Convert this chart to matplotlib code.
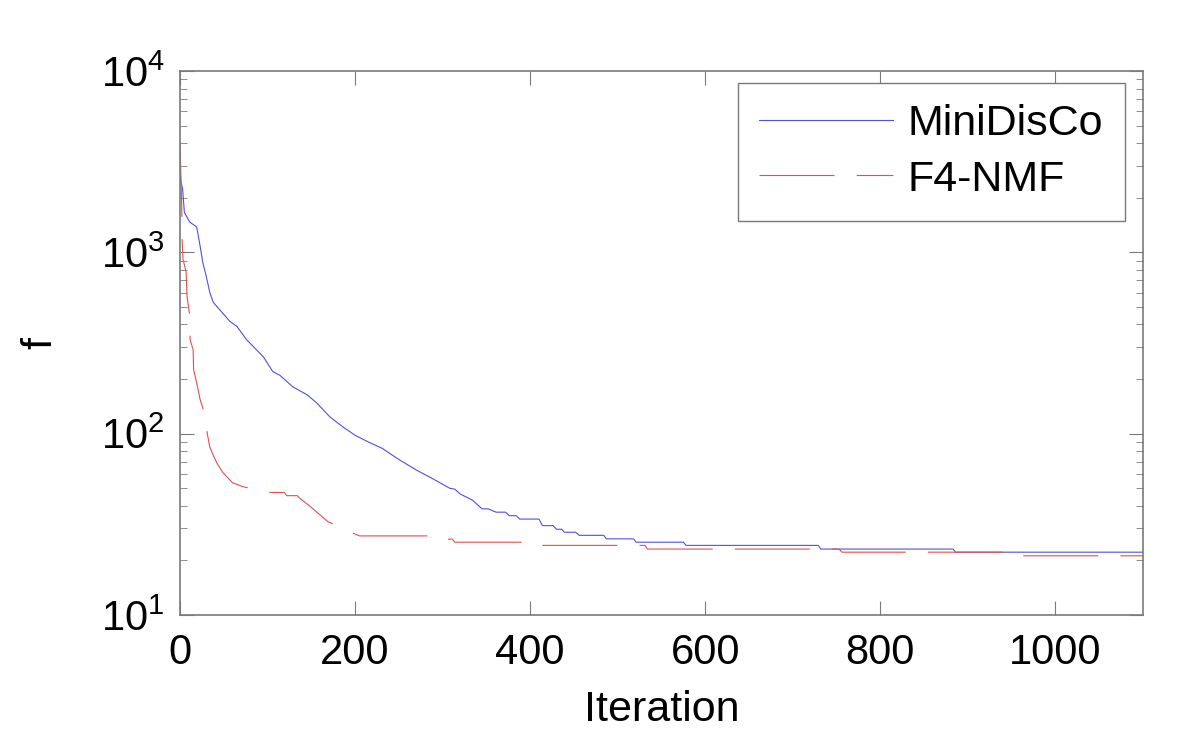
import numpy as np
import matplotlib.pyplot as plt

plt.rcParams['font.family'] = ['Liberation Sans', 'DejaVu Sans']
plt.rcParams['lines.scale_dashes'] = False
plt.rcParams['mathtext.fontset'] = 'custom'
plt.rcParams['mathtext.rm'] = 'Liberation Sans'

# MiniDisCo
mini_it = [0, 3, 5, 11, 19, 21, 23, 26, 30, 34, 38, 57, 65, 76, 95, 106, 114,
           129, 145, 156, 171, 186, 200, 215, 231, 250, 270, 290, 308, 314, 320,
           334, 345, 352, 361, 372, 376, 384, 388, 410, 414, 426, 430, 436, 439,
           452, 456, 484, 487, 518, 521, 575, 578, 729, 732, 883, 886, 1100]
mini_f = [2590, 2230, 1660, 1470, 1380, 1225, 1080, 880, 737, 601, 530, 416, 390,
          330, 266, 220, 210, 181, 164, 148, 124, 109, 98, 90, 83, 72, 63, 56, 50,
          49.4, 46.5, 43, 38.5, 38.5, 36.9, 36.9, 35.3, 35.3, 33.8, 33.8, 31.1,
          31.1, 29.7, 29.7, 28.6, 28.6, 27.5, 27.5, 26.3, 26.3, 25.2, 25.2, 24.2,
          24.2, 23.1, 23.1, 22.2, 22.2]

# F4-NMF
f4_it = [0, 2, 2.5, 3.4, 7, 8, 11, 11.5, 15, 15.5, 19, 23, 26, 31, 34, 38, 42,
         49, 60, 72, 99, 119, 122, 134, 137, 148, 156, 169, 194, 205, 299, 302,
         311, 314, 396, 399, 531, 534, 753, 756, 943, 946, 1100]
f4_f = [4060, 1790, 1150, 915, 780, 571, 454, 330, 290, 226, 191, 154, 139, 101,
        84.5, 76, 69, 61, 53.6, 51, 47.4, 47.4, 45.5, 45.5, 43.9, 40, 37, 32.7,
        28.8, 27.3, 27.3, 26.2, 26.2, 25.2, 25.2, 24.2, 24.2, 23.1, 23.1, 22.2,
        22.2, 21.2, 21.2]

fig = plt.figure(figsize=(12, 7.44), dpi=100)
ax = fig.add_axes([0.15, 0.1734, 0.8025, 0.7312])

ax.plot(mini_it, mini_f, color='#5050e0', linewidth=0.8, label='MiniDisCo')
ax.plot(f4_it, f4_f, color='#e05050', linewidth=0.8, dashes=(54, 16),
        label='F4-NMF')

ax.set_yscale('log')
ax.set_xlim(0, 1100)
ax.set_ylim(10, 1e4)
ax.set_xticks([0, 200, 400, 600, 800, 1000])
ax.set_yticks([10, 100, 1000, 10000])
ax.set_yticklabels([r'$10^1$', r'$10^2$', r'$10^3$', r'$10^4$'])

for s in ax.spines.values():
    s.set_color('#7a7a7a')
    s.set_linewidth(1.2)
ax.tick_params(which='both', direction='in', top=True, right=True,
               colors='#7a7a7a', labelcolor='black', labelsize=30)
ax.tick_params(which='major', length=10)
ax.tick_params(which='minor', length=5)
ax.tick_params(axis='x', which='major', pad=13)
ax.tick_params(axis='y', which='major', pad=11)

ax.set_xlabel('Iteration', fontsize=31, labelpad=12)
ax.set_ylabel('f', fontsize=31, labelpad=29)

leg = ax.legend(loc='upper right', bbox_to_anchor=(0.981, 0.978),
                borderaxespad=0, fontsize=31, handlelength=3.1,
                handletextpad=0.35, borderpad=0.5, labelspacing=0.35,
                fancybox=False, framealpha=1)
leg.get_frame().set_edgecolor('#7a7a7a')
leg.get_frame().set_linewidth(1.0)

fig.savefig('out.png', dpi=100)
